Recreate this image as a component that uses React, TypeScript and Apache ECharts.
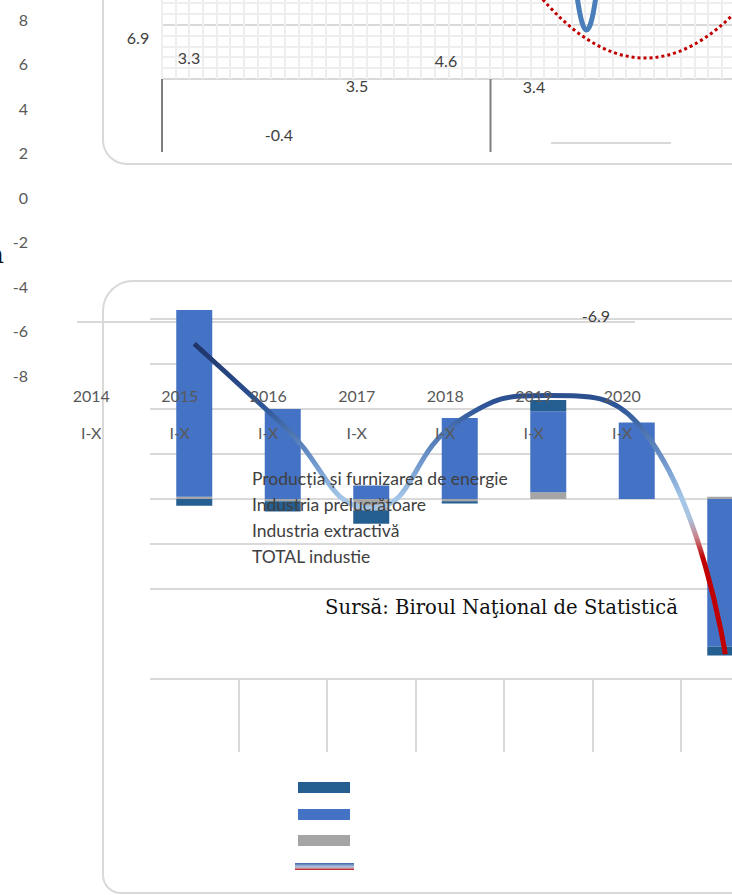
import React, { useEffect, useRef } from 'react';
import * as echarts from 'echarts';

// ---- data ----
const YEARS = ['2015', '2016', '2017', '2018', '2019', '2020', '2021'];
const AXIS_YEARS = ['2014', '2015', '2016', '2017', '2018', '2019', '2020'];
const PERIOD = 'I-X';
const ENERGIE = [-0.3, -0.45, -0.6, -0.1, 0.5, 0, -0.4];
const PRELUCRATOARE = [8.3, 4.0, 0.6, 3.6, 3.6, 3.4, -6.55];
const EXTRACTIVA = [0.1, -0.1, -0.5, -0.1, 0.3, 0, 0.1];
const TOTAL = [6.9, 3.3, -0.4, 3.5, 4.6, 3.4, -6.9];
const SERIES_NAMES = [
  'Producția și furnizarea de energie',
  'Industria prelucrătoare',
  'Industria extractivă',
  'TOTAL industie',
];
const SOURCE = 'Sursă: Biroul Naţional de Statistică';

// positions of the (displaced) total labels
const LABEL_POS = [
  [138, 37],
  [189, 57],
  [279, 134],
  [357, 85],
  [446, 60],
  [534, 86],
  [596, 315],
];

const C_DARK = '#255E91';
const C_BLUE = '#4472C4';
const C_GRAY = '#A5A5A5';
const GRID = '#d9d9d9';
const FONT = 'Lato';

export default function App() {
  const ref = useRef<HTMLDivElement>(null);
  useEffect(() => {
    const chart = echarts.init(ref.current!, null, { renderer: 'svg' });
    const lineGrad = new echarts.graphic.LinearGradient(0, 0, 0, 1, [
      { offset: 0, color: '#1F3468' },
      { offset: 0.2, color: '#2E5597' },
      { offset: 0.38, color: '#6F97CC' },
      { offset: 0.5, color: '#A4C6E8' },
      { offset: 0.56, color: '#A9C4E0' },
      { offset: 0.62, color: '#C9878F' },
      { offset: 0.69, color: '#C00000' },
      { offset: 1, color: '#C00000' },
    ]);
    const iconGrad = new echarts.graphic.LinearGradient(0, 0, 0, 1, [
      { offset: 0, color: '#3F65A8' },
      { offset: 0.5, color: '#A7BEDD' },
      { offset: 0.75, color: '#C8A0A8' },
      { offset: 1, color: '#C00000' },
    ]);

    const mainSplit = [GRID, 'rgba(0,0,0,0)', GRID, GRID, GRID, GRID, GRID, GRID, GRID];
    const meshY = [GRID, '#eeeeee', '#eeeeee', '#eeeeee', '#eeeeee', GRID, '#eeeeee', '#eeeeee', '#eeeeee'];
    const sepColors = ['rgba(0,0,0,0)', GRID, GRID, GRID, GRID, GRID, GRID, GRID];

    const graphics: any[] = [
      // panels
      {
        type: 'rect', z: -10,
        shape: { x: 103, y: -40, width: 700, height: 204, r: [0, 0, 0, 24] },
        style: { fill: 'none', stroke: GRID, lineWidth: 2 },
      },
      {
        type: 'rect', z: -10,
        shape: { x: 103, y: 281, width: 700, height: 612, r: [30, 0, 0, 18] },
        style: { fill: 'none', stroke: GRID, lineWidth: 2 },
      },
      {
        type: 'line', z: -5,
        shape: { x1: 77, y1: 322, x2: 635, y2: 322 },
        style: { stroke: GRID, lineWidth: 2 },
      },
      {
        type: 'line', z: 50,
        shape: { x1: 162, y1: 79, x2: 162, y2: 152 },
        style: { stroke: '#7f7f7f', lineWidth: 2 },
      },
      {
        type: 'line', z: 50,
        shape: { x1: 490.5, y1: 79, x2: 490.5, y2: 152 },
        style: { stroke: '#7f7f7f', lineWidth: 2 },
      },
      {
        type: 'line', z: 50,
        shape: { x1: 551, y1: 143, x2: 671, y2: 143 },
        style: { stroke: GRID, lineWidth: 2 },
      },
      {
        type: 'bezierCurve', z: 60,
        shape: { x1: 535, y1: -9.8, x2: 745, y2: 2, cpx1: 640, cpy1: 119.6 },
        style: { stroke: '#C00000', lineWidth: 3, lineDash: [3, 3], fill: 'none' },
      },
      {
        type: 'bezierCurve', z: 60,
        shape: { x1: 577, y1: -4, x2: 596, y2: -4, cpx1: 586.5, cpy1: 64 },
        style: { stroke: '#4A7EBB', lineWidth: 5, fill: 'none' },
      },
      // legend icons
      { type: 'rect', z: 60, shape: { x: 298, y: 782, width: 52, height: 11 }, style: { fill: C_DARK } },
      { type: 'rect', z: 60, shape: { x: 298, y: 809, width: 52, height: 11 }, style: { fill: C_BLUE } },
      { type: 'rect', z: 60, shape: { x: 298, y: 835, width: 52, height: 11 }, style: { fill: C_GRAY } },
      { type: 'rect', z: 60, shape: { x: 295, y: 863, width: 59, height: 7 }, style: { fill: iconGrad } },
      // source
      {
        type: 'text', z: 60, x: 501.5, y: 607,
        style: {
          text: SOURCE, fontFamily: 'DejaVu Serif', fontSize: 19.6, fill: '#111111',
          align: 'center', verticalAlign: 'middle',
        },
      },
      {
        type: 'text', z: 60, x: 4, y: 254,
        style: {
          text: 'a', fontFamily: 'DejaVu Serif', fontSize: 26, fill: '#111111',
          align: 'right', verticalAlign: 'middle',
        },
      },
    ];
    TOTAL.forEach((v, i) => {
      graphics.push({
        type: 'text', z: 70, x: LABEL_POS[i][0], y: LABEL_POS[i][1],
        style: {
          text: v.toFixed(1), fontFamily: FONT, fontSize: 16, fill: '#404040',
          align: 'center', verticalAlign: 'middle',
        },
      });
    });

    chart.setOption({
      animation: false,
      textStyle: { fontFamily: FONT },
      grid: [
        { left: 150, top: 319, width: 619.5, height: 360, outerBoundsMode: 'none', containLabel: false },
        { left: 47, top: 300, width: 619.5, height: 76.5, outerBoundsMode: 'none', containLabel: false },
        { left: 150, top: 680, width: 619.5, height: 72, outerBoundsMode: 'none', containLabel: false },
        { left: 36, top: 19, width: 10, height: 356, outerBoundsMode: 'none', containLabel: false },
        { left: 161.7, top: -8.2, width: 573.7, height: 87.2, outerBoundsMode: 'none', containLabel: false },
      ],
      xAxis: [
        {
          type: 'category', gridIndex: 0, data: YEARS,
          axisLine: { show: false }, axisTick: { show: false }, axisLabel: { show: false },
          splitLine: { show: false },
        },
        {
          type: 'category', gridIndex: 1, data: AXIS_YEARS, z: 10,
          axisLine: { show: false }, axisTick: { show: false }, splitLine: { show: false },
          axisLabel: {
            interval: 0, margin: 0, fontFamily: FONT, fontSize: 16, color: '#595959',
            lineHeight: 37,
            formatter: (v: string) => `${v}\n${PERIOD}`,
          },
        },
        {
          type: 'category', gridIndex: 2, data: YEARS,
          axisLine: { show: false }, axisTick: { show: false }, axisLabel: { show: false },
          splitLine: { show: true, interval: 0, lineStyle: { color: sepColors, width: 2 } },
        },
        { type: 'value', gridIndex: 3, show: false },
        {
          type: 'value', gridIndex: 4, min: 0, max: 42, interval: 1,
          axisLine: { show: false }, axisTick: { show: false }, axisLabel: { show: false },
          splitLine: { show: true, lineStyle: { color: '#eeeeee', width: 2 } },
        },
      ],
      yAxis: [
        {
          type: 'value', gridIndex: 0, min: -8, max: 8, interval: 2,
          axisLine: { show: false }, axisTick: { show: false }, axisLabel: { show: false },
          splitLine: { show: true, lineStyle: { color: mainSplit, width: 2 } },
        },
        { type: 'value', gridIndex: 1, show: false },
        { type: 'value', gridIndex: 2, show: false },
        {
          type: 'value', gridIndex: 3, min: -8, max: 8, interval: 2,
          axisLine: { show: false }, axisTick: { show: false }, splitLine: { show: false },
          axisLabel: { margin: 8, fontFamily: FONT, fontSize: 16, color: '#595959' },
        },
        {
          type: 'value', gridIndex: 4, min: 0, max: 8, interval: 1,
          axisLine: { show: false }, axisTick: { show: false }, axisLabel: { show: false },
          splitLine: { show: true, lineStyle: { color: meshY, width: 2 } },
        },
      ],
      legend: {
        data: SERIES_NAMES,
        orient: 'vertical',
        left: 247,
        top: 465,
        padding: 0,
        itemGap: 0,
        itemWidth: 0,
        itemHeight: 26,
        icon: 'rect',
        selectedMode: false,
        itemStyle: { opacity: 0 },
        textStyle: { fontFamily: FONT, fontSize: 17.5, color: '#404040' },
      },
      series: [
        {
          name: SERIES_NAMES[2], type: 'bar', stack: 'total', data: EXTRACTIVA,
          xAxisIndex: 0, yAxisIndex: 0, barWidth: 36, clip: false,
          itemStyle: { color: C_GRAY },
        },
        {
          name: SERIES_NAMES[1], type: 'bar', stack: 'total', data: PRELUCRATOARE,
          xAxisIndex: 0, yAxisIndex: 0, barWidth: 36, clip: false,
          itemStyle: { color: C_BLUE },
        },
        {
          name: SERIES_NAMES[0], type: 'bar', stack: 'total', data: ENERGIE,
          xAxisIndex: 0, yAxisIndex: 0, barWidth: 36, clip: false,
          itemStyle: { color: C_DARK },
        },
        {
          name: SERIES_NAMES[3], type: 'line', data: TOTAL,
          xAxisIndex: 0, yAxisIndex: 0, smooth: 0.5, showSymbol: false, z: 3,
          lineStyle: { color: lineGrad, width: 5 },
          itemStyle: { color: '#2E5597' },
        },
      ],
      graphic: graphics,
    });
    return () => chart.dispose();
  }, []);
  return (
    <div
      ref={ref}
      style={{ position: 'absolute', left: 0, top: 0, width: 732, height: 895 }}
    />
  );
}
